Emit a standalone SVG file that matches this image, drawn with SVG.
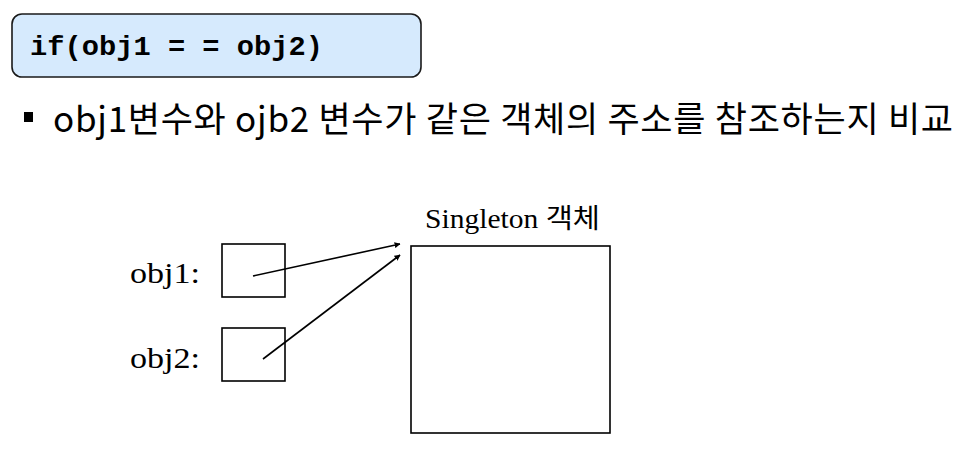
<svg xmlns="http://www.w3.org/2000/svg" width="968" height="454" viewBox="0 0 968 454">
<defs>
<style>
.box{fill:#fff;stroke:#000;stroke-width:1.6}
.serif{font-family:"Liberation Serif","Noto Sans CJK KR",serif;fill:#000}
.kr{font-family:"Noto Sans CJK KR","Noto Sans",sans-serif;fill:#000;font-size:35px}
.mono{font-family:"Liberation Mono",monospace;font-weight:bold;font-size:27px;fill:#000}
.conn{stroke:#000;stroke-width:1.6;fill:none;marker-end:url(#ah)}
</style>
<marker id="ah" viewBox="0 0 10 10" refX="9" refY="5" markerWidth="6" markerHeight="6" markerUnits="userSpaceOnUse" orient="auto">
<path d="M0,0 L10,5 L0,10 z" fill="#000"/>
</marker>
</defs>
<rect width="968" height="454" fill="#fff"/>
<g id="code">
<rect x="12" y="14" width="409" height="63" rx="10" ry="10" fill="#d6eafd" stroke="#1a1a1a" stroke-width="1.6"/>
<text class="mono" x="30" y="55" textLength="293" lengthAdjust="spacingAndGlyphs">if(obj1 = = obj2)</text>
</g>
<g id="bullet">
<rect x="24" y="112" width="9" height="10" fill="#000"/>
<text class="kr" x="53" y="132" textLength="900" lengthAdjust="spacing">obj1변수와 ojb2 변수가 같은 객체의 주소를 참조하는지 비교</text>
</g>
<g id="singleton">
<text class="serif" x="425" y="228" font-size="27" textLength="175" lengthAdjust="spacingAndGlyphs">Singleton 객체</text>
<rect class="box" x="411" y="246" width="199" height="187"/>
</g>
<g id="obj1">
<text class="serif" x="130" y="283" font-size="30" textLength="70" lengthAdjust="spacingAndGlyphs">obj1:</text>
<rect class="box" x="222" y="244" width="63" height="53"/>
</g>
<g id="obj2">
<text class="serif" x="130" y="368" font-size="30" textLength="70" lengthAdjust="spacingAndGlyphs">obj2:</text>
<rect class="box" x="222" y="328" width="63" height="53"/>
</g>
<g id="connectors">
<line class="conn" x1="253" y1="276" x2="400" y2="244"/>
<line class="conn" x1="263" y1="359" x2="400" y2="255"/>
</g>
</svg>
